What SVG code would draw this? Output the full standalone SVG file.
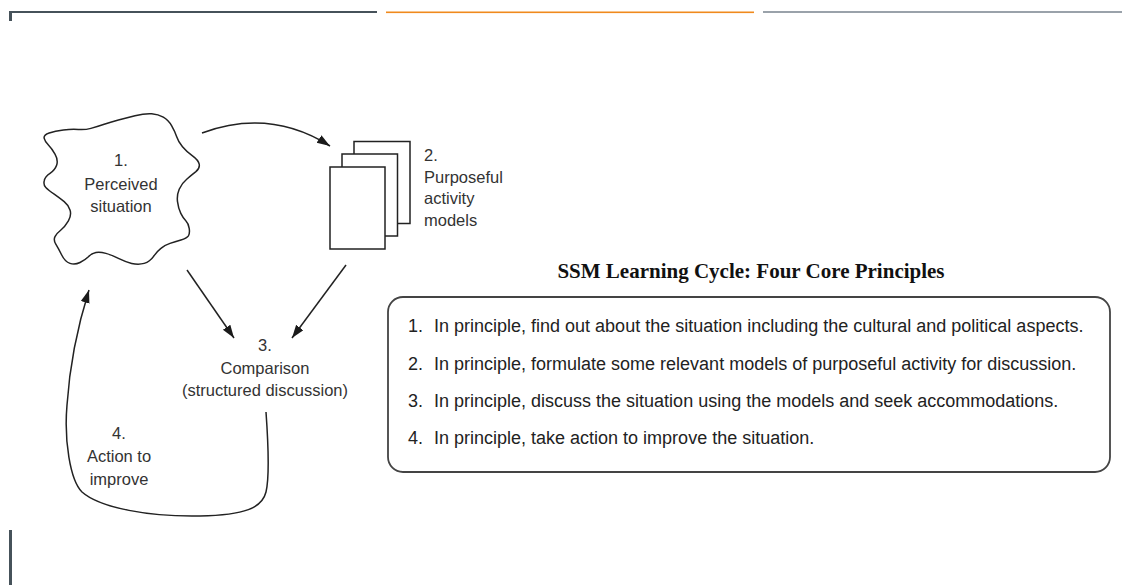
<svg xmlns="http://www.w3.org/2000/svg" width="1122" height="585" viewBox="0 0 1122 585">
  <defs>
    <marker id="arrow" markerUnits="userSpaceOnUse" markerWidth="14" markerHeight="10" refX="13" refY="4.5" orient="auto">
      <path d="M0,0 L13,4.5 L0,9 Z" fill="#1a1a1a"/>
    </marker>
    <style>
      .line { fill: none; stroke: #222; stroke-width: 1.5; }
      .shape { fill: #fff; stroke: #222; stroke-width: 1.5; }
      .lbl { font-family: "Liberation Sans", Arial, sans-serif; font-size: 16.5px; fill: #333; }
      .mid { text-anchor: middle; }
      .item { font-family: "Liberation Sans", Arial, sans-serif; font-size: 18px; fill: #222; }
      .title { font-family: "Liberation Serif", "Times New Roman", serif; font-size: 21px; font-weight: bold; fill: #111; text-anchor: middle; }
    </style>
  </defs>

  <rect width="1122" height="585" fill="#fff"/>

  <!-- header rule and page frame marks -->
  <g id="frame">
    <rect x="9" y="11" width="368" height="2" fill="#46525a"/>
    <rect x="9" y="11" width="3" height="10" fill="#46525a"/>
    <rect x="386" y="11.5" width="368" height="1.6" fill="#f08a1d"/>
    <rect x="763" y="11" width="359" height="2" fill="#9aa2aa"/>
    <rect x="9" y="530" width="3" height="55" fill="#46525a"/>
  </g>

  <!-- connectors -->
  <g id="connectors">
    <path class="line" d="M202 133 Q270 108 330 146" marker-end="url(#arrow)"/>
    <path class="line" d="M187 270 L234 338" marker-end="url(#arrow)"/>
    <path class="line" d="M346 265 L292 338" marker-end="url(#arrow)"/>
    <path class="line" d="M266 412 C268 440 270 475 266 492 C262 508 245 515 200 516 C150 517 100 508 82 492 C70 480 64 440 67 405 C70 360 78 325 89 290" marker-end="url(#arrow)"/>
  </g>

  <!-- 1. perceived situation -->
  <g id="node-situation">
    <path class="shape" d="M44.2 138.4 Q43.3 135 49.2 133 Q55 131 63.4 130 Q71.7 129 78.4 129.5 Q85 130 90.9 128.4 Q96.7 126.7 104.2 124.2 Q111.7 121.7 118.4 120 Q125 118.3 135 115.8 Q145 113.3 151.7 113.8 Q158.3 114.3 163.3 117.2 Q168.3 120 171.7 125.9 Q175 131.7 176.7 136.7 Q178.3 141.7 182.5 146.7 Q186.7 151.7 192.5 155.9 Q198.3 160 199.2 164.2 Q200 168.3 195.9 171.7 Q191.7 175 186.7 179.2 Q181.7 183.3 179.2 189.2 Q176.7 195 177.5 201.7 Q178.3 208.3 180.8 213.3 Q183.3 218.3 185.8 220.8 Q188.3 223.3 189.2 228.3 Q190 233.3 188.4 235.8 Q186.7 238.3 180.9 240 Q175 241.7 170 243.4 Q165 245 160.9 248.4 Q156.7 251.7 153.4 256.7 Q150 261.7 144.2 263.4 Q138.3 265 131.7 263.4 Q125 261.7 118.4 258.4 Q111.7 255 105.9 253.4 Q100 251.7 95.9 252.5 Q91.7 253.3 88.4 256.7 Q85 260 80 262.5 Q75 265 70 263.4 Q65 261.7 61.7 255 Q58.3 248.3 55.8 244.2 Q53.3 240 55 236.7 Q56.7 233.3 60.9 230 Q65 226.7 68.4 220.9 Q71.7 215 70 210 Q68.3 205 64.2 201.7 Q60 198.3 54.2 194.2 Q48.3 190 45.8 187.5 Q43.3 185 44.2 180.9 Q45 176.7 50 173.4 Q55 170 56.7 165 Q58.3 160 55 154.2 Q51.7 148.3 48.4 145 Q45 141.7 44.2 138.4 Z"/>
    <text class="lbl mid" x="121" y="166">1.</text>
    <text class="lbl mid" x="121" y="190">Perceived</text>
    <text class="lbl mid" x="121" y="212">situation</text>
  </g>

  <!-- 2. purposeful activity models: stacked sheets -->
  <g id="node-models">
    <rect class="shape" x="354" y="141.5" width="56" height="82"/>
    <rect class="shape" x="342" y="154" width="55.5" height="82"/>
    <rect class="shape" x="330" y="167" width="55" height="82"/>
    <text class="lbl" x="424" y="161">2.</text>
    <text class="lbl" x="424" y="183">Purposeful</text>
    <text class="lbl" x="424" y="204">activity</text>
    <text class="lbl" x="424" y="226">models</text>
  </g>

  <!-- 3. comparison -->
  <g id="node-comparison">
    <text class="lbl mid" x="265" y="351">3.</text>
    <text class="lbl mid" x="265" y="374">Comparison</text>
    <text class="lbl mid" x="265" y="396">(structured discussion)</text>
  </g>

  <!-- 4. action to improve -->
  <g id="node-action">
    <text class="lbl mid" x="119" y="439">4.</text>
    <text class="lbl mid" x="119" y="462">Action to</text>
    <text class="lbl mid" x="119" y="485">improve</text>
  </g>

  <!-- principles panel -->
  <g id="principles">
    <text class="title" x="751" y="278">SSM Learning Cycle: Four Core Principles</text>
    <rect x="388" y="297" width="722" height="175" rx="15" ry="15" fill="#fff" stroke="#444" stroke-width="1.8"/>
    <text class="item" y="332"><tspan x="408">1.</tspan><tspan x="434">In principle, find out about the situation including the cultural and political aspects.</tspan></text>
    <text class="item" y="370"><tspan x="408">2.</tspan><tspan x="434">In principle, formulate some relevant models of purposeful activity for discussion.</tspan></text>
    <text class="item" y="407"><tspan x="408">3.</tspan><tspan x="434">In principle, discuss the situation using the models and seek accommodations.</tspan></text>
    <text class="item" y="444"><tspan x="408">4.</tspan><tspan x="434">In principle, take action to improve the situation.</tspan></text>
  </g>
</svg>
